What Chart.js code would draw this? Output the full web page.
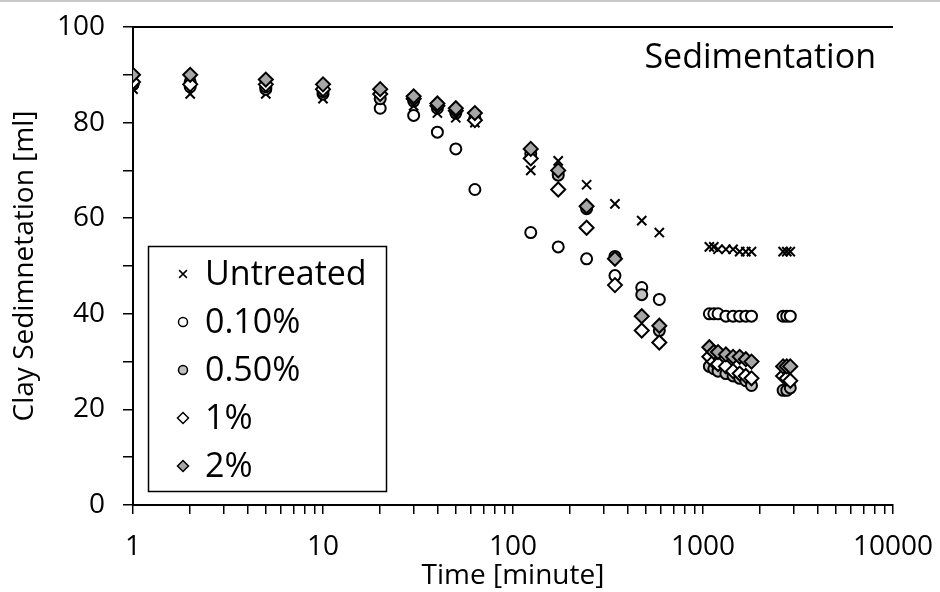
<!DOCTYPE html>
<html>
<head>
<meta charset="utf-8">
<title>Sedimentation</title>
<script src="https://cdn.jsdelivr.net/npm/chart.js@4.4.1/dist/chart.umd.min.js"></script>
<style>
  body { margin: 0; background: #fff; }
  #chartdiv { width: 940px; height: 592px; }
</style>
</head>
<body>
<div id="chartdiv"><canvas id="myChart" width="940" height="592"></canvas></div>
<script>
// time in minutes
var times = [1, 2, 5, 10, 20, 30, 40, 50, 63, 124, 173, 244, 344, 476, 589,
             1080, 1140, 1200, 1320, 1440, 1560, 1680, 1800, 2640, 2760, 2880];

var untreated = [87, 86, 86, 85, 85, 83.5, 82, 81, 80, 70, 72, 67, 63, 59.5, 57,
                 54, 54, 53.5, 53.5, 53.5, 53, 53, 53, 53, 53, 53];
var pct010 = [88, 87.5, 87, 86, 83, 81.5, 78, 74.5, 66, 57, 54, 51.5, 48, 45.5, 43,
              40, 40, 40, 39.5, 39.5, 39.5, 39.5, 39.5, 39.5, 39.5, 39.5];
var pct050 = [88, 88.5, 87.5, 86.5, 85, 84.5, 83, 82, 81, 73.5, 69, 62, 52, 44, 36.5,
              29, 28.5, 28, 27.5, 27, 26.5, 26, 25, 24, 24, 24.5];
var pct1 = [88.5, 88, 88, 87, 86, 85, 83.5, 82.5, 80.5, 72.5, 66, 58, 46, 36.5, 34,
            31, 30, 29.5, 29, 28, 27.5, 27, 26.5, 27, 26.5, 26];
var pct2 = [90, 90, 89, 88, 87, 85.5, 84, 83, 82, 74.5, 70, 62.5, 51.5, 39.5, 37.5,
            33, 32, 32, 31.5, 31, 31, 30.5, 30, 29, 29, 29];

var seriesNames = ['Untreated', '0.10%', '0.50%', '1%', '2%'];
var xLabels = [1, 10, 100, 1000, 10000];
var yLabels = [0, 20, 40, 60, 80, 100];

// minor tick positions on the log axis: 1..9 in every decade
var xTickValues = [];
for (var k = 0; k < 4; k++) {
  for (var m = 1; m < 10; m++) xTickValues.push(m * Math.pow(10, k));
}
xTickValues.push(10000);

var styles = [
  { pointStyle: 'crossRot', radius: 6.5, fill: '#000000' },
  { pointStyle: 'circle', radius: 5.5, fill: '#ffffff' },
  { pointStyle: 'circle', radius: 5.5, fill: '#c0c0c0' },
  { pointStyle: 'rectRot', radius: 7, fill: '#ffffff' },
  { pointStyle: 'rectRot', radius: 7, fill: '#a6a6a6' }
];

function pts(vals) {
  return times.map(function (t, i) { return { x: t, y: vals[i] }; });
}

var allSeries = [untreated, pct010, pct050, pct1, pct2];
var datasets = allSeries.map(function (vals, i) {
  return {
    label: seriesNames[i],
    data: pts(vals),
    showLine: false,
    pointStyle: styles[i].pointStyle,
    pointRadius: styles[i].radius,
    pointBackgroundColor: styles[i].fill,
    pointBorderColor: '#000000',
    pointBorderWidth: 2,
    order: 5 - i
  };
});

function drawMarker(ctx, style, x, y, r, fill) {
  ctx.save();
  ctx.strokeStyle = '#000';
  ctx.fillStyle = fill;
  ctx.lineWidth = 1.5;
  ctx.beginPath();
  if (style == 'crossRot') {
    var d = r * Math.SQRT1_2;
    ctx.moveTo(x - d, y - d); ctx.lineTo(x + d, y + d);
    ctx.moveTo(x + d, y - d); ctx.lineTo(x - d, y + d);
    ctx.stroke();
  } else if (style == 'circle') {
    ctx.arc(x, y, r, 0, Math.PI * 2);
    ctx.fill(); ctx.stroke();
  } else {
    ctx.moveTo(x, y - r); ctx.lineTo(x + r, y); ctx.lineTo(x, y + r); ctx.lineTo(x - r, y);
    ctx.closePath();
    ctx.fill(); ctx.stroke();
  }
  ctx.restore();
}

// keep the plot box where it is in the picture, no extra room for tick label overhang
function noPad(s) {
  s.paddingTop = 0; s.paddingBottom = 0; s.paddingLeft = 0; s.paddingRight = 0;
}

var extras = {
  id: 'extras',
  afterDraw: function (chart) {
    var ctx = chart.ctx;
    var a = chart.chartArea;
    ctx.save();
    // light page line at the very top
    ctx.fillStyle = '#c8c8c8';
    ctx.fillRect(0, 0, 940, 2);
    // top border of plot
    ctx.strokeStyle = '#000';
    ctx.lineWidth = 2;
    ctx.beginPath();
    ctx.moveTo(a.left, a.top);
    ctx.lineTo(a.right, a.top);
    ctx.stroke();
    // label in the corner
    ctx.fillStyle = '#000';
    ctx.font = '34px "Open Sans"';
    ctx.textAlign = 'right';
    ctx.textBaseline = 'middle';
    ctx.fillText('Sedimentation', 876, 58);
    // legend box
    ctx.fillStyle = '#fff';
    ctx.fillRect(148, 246, 238, 245);
    ctx.lineWidth = 1.5;
    ctx.strokeRect(148.5, 246.5, 238, 245);
    ctx.font = '34px "Open Sans"';
    ctx.textAlign = 'left';
    var rowY = [274, 322, 370, 418, 466];
    var legR = [5.5, 4.5, 4.5, 5.5, 5.5];
    for (var i = 0; i < seriesNames.length; i++) {
      drawMarker(ctx, styles[i].pointStyle, 183, rowY[i], legR[i], styles[i].fill);
      ctx.fillStyle = '#000';
      ctx.fillText(seriesNames[i], 205, rowY[i] + 1);
    }
    ctx.restore();
  }
};

var ctx = document.getElementById('myChart').getContext('2d');
var myChart = new Chart(ctx, {
  type: 'scatter',
  data: { datasets: datasets },
  options: {
    responsive: false,
    animation: false,
    layout: { padding: { top: 27, right: 47, left: 0, bottom: 0 } },
    plugins: {
      legend: { display: false },
      tooltip: { enabled: false }
    },
    scales: {
      x: {
        type: 'logarithmic',
        min: 1,
        max: 10000,
        afterFit: function (s) { s.height = 87; noPad(s); },
        afterBuildTicks: function (s) {
          s.ticks = xTickValues.map(function (v) { return { value: v }; });
        },
        border: { color: '#000', width: 2 },
        grid: { drawOnChartArea: false, drawTicks: true, tickLength: 9, color: '#000', lineWidth: 1.5 },
        ticks: {
          autoSkip: false,
          maxRotation: 0,
          padding: 16,
          color: '#000',
          font: { family: 'Open Sans', size: 28 },
          callback: function (v) { return xLabels.indexOf(v) >= 0 ? String(v) : ''; }
        },
        title: {
          display: true,
          text: 'Time [minute]',
          color: '#000',
          font: { family: 'Open Sans', size: 28, lineHeight: 1.15 },
          padding: { top: 0, bottom: 0 }
        }
      },
      y: {
        min: 0,
        max: 100,
        afterFit: function (s) { s.width = 133; noPad(s); },
        border: { color: '#000', width: 2 },
        grid: { drawOnChartArea: false, drawTicks: true, tickLength: 10, color: '#000', lineWidth: 1.5 },
        ticks: {
          stepSize: 5,
          padding: 18,
          color: '#000',
          font: { family: 'Open Sans', size: 28 },
          callback: function (v) { return yLabels.indexOf(v) >= 0 ? String(v) : ''; }
        },
        title: {
          display: true,
          text: 'Clay Sedimnetation [ml]',
          color: '#000',
          font: { family: 'Open Sans', size: 28, lineHeight: 1.15 },
          padding: { top: 9, bottom: 0 }
        }
      }
    }
  },
  plugins: [extras]
});
</script>
</body>
</html>
